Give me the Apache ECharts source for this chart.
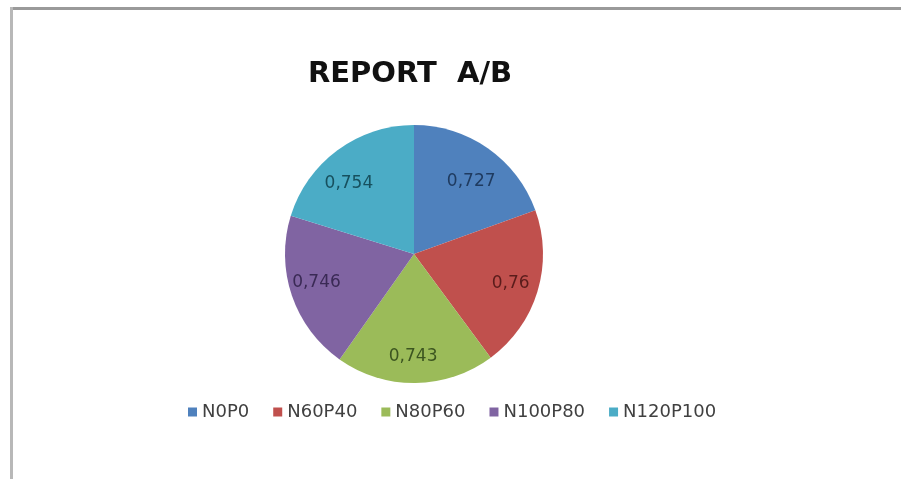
<!DOCTYPE html>
<html>
<head>
<meta charset="utf-8">
<title>REPORT A/B</title>
<script src="https://cdn.jsdelivr.net/npm/echarts@6/dist/echarts.min.js"></script>
<style>
  html, body { margin: 0; padding: 0; background: #ffffff; }
  #chart { width: 901px; height: 479px; }
</style>
</head>
<body>
<div id="chart"></div>
<script>
// Treatment groups and their A/B ratio
const categories = ['N0P0', 'N60P40', 'N80P60', 'N100P80', 'N120P100'];
const ratioValues = [0.727, 0.76, 0.743, 0.746, 0.754];

const sliceColors = ['#4F81BD', '#C0504D', '#9BBB59', '#8064A2', '#4BACC6'];
const labelColors = ['#1F3B60', '#5A1C1B', '#3C5520', '#3A2A55', '#17505E'];
// small nudges for the two upper labels so they sit lower in their slices
const labelNudges = [[-2, 12], [-2, 0], [-2, 0], [0, -5], [-4, 12]];

const center = [414, 254];
const outerR = 129;
const baseFont = 'DejaVu Sans, Open Sans, sans-serif';

const sliceData = categories.map((name, i) => ({
  name: name,
  value: ratioValues[i],
  itemStyle: { color: sliceColors[i] }
}));

// Transparent ring carrying the value labels, placed further out than the default inner position
const labelData = categories.map((name, i) => ({
  name: name,
  value: ratioValues[i],
  label: { color: labelColors[i], offset: labelNudges[i] }
}));

const chart = echarts.init(document.getElementById('chart'), null, { renderer: 'canvas' });

chart.setOption({
  backgroundColor: '#ffffff',
  animation: false,
  title: {
    text: 'REPORT  A/B',
    left: 405,
    textAlign: 'center',
    top: 55,
    textStyle: {
      fontFamily: baseFont,
      fontSize: 29,
      fontWeight: 'bold',
      color: '#111111'
    }
  },
  legend: {
    data: categories,
    left: 183,
    top: 398,
    itemWidth: 9,
    itemHeight: 9,
    itemGap: 24,
    icon: 'rect',
    textStyle: {
      fontFamily: baseFont,
      fontSize: 18,
      color: '#404040'
    }
  },
  graphic: [
    { type: 'rect', shape: { x: 10, y: 7, width: 891, height: 3 }, style: { fill: '#9a9a9a' }, silent: true },
    { type: 'rect', shape: { x: 10, y: 7, width: 3, height: 472 }, style: { fill: '#b8b8b8' }, silent: true }
  ],
  series: [
    {
      name: 'A/B',
      type: 'pie',
      center: center,
      radius: [0, outerR],
      startAngle: 90,
      clockwise: true,
      data: sliceData,
      label: { show: false },
      labelLine: { show: false },
      itemStyle: { borderWidth: 0 },
      emphasis: { disabled: true }
    },
    {
      name: 'labels',
      type: 'pie',
      center: center,
      radius: [71, outerR],
      startAngle: 90,
      clockwise: true,
      data: labelData,
      silent: true,
      itemStyle: { color: 'rgba(0,0,0,0)', borderWidth: 0 },
      label: {
        show: true,
        position: 'inner',
        fontFamily: baseFont,
        fontSize: 17,
        formatter: p => String(p.value).replace('.', ',')
      },
      labelLine: { show: false },
      emphasis: { disabled: true },
      legendHoverLink: false
    }
  ]
});
</script>
</body>
</html>
